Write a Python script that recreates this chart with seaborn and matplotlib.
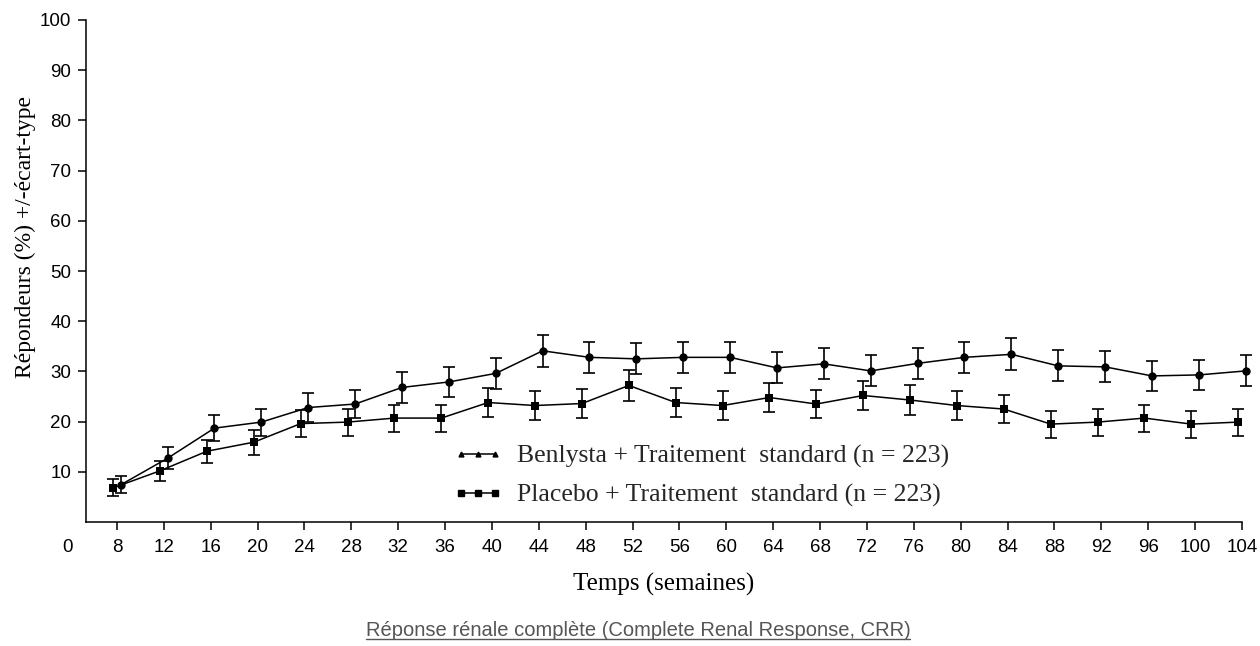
import numpy as np
import pandas as pd
import matplotlib
matplotlib.use("Agg")
import matplotlib.pyplot as plt
import seaborn as sns
from matplotlib.lines import Line2D
from matplotlib.transforms import blended_transform_factory

# ---- data ----
weeks = [8, 12, 16, 20, 24, 28, 32, 36, 40, 44, 48, 52, 56, 60, 64, 68,
         72, 76, 80, 84, 88, 92, 96, 100, 104]
benlysta = [7.4, 12.7, 18.7, 19.9, 22.8, 23.5, 26.8, 27.9, 29.6, 34.1, 32.8,
            32.5, 32.8, 32.8, 30.7, 31.5, 30.1, 31.6, 32.8, 33.4, 31.1, 30.9,
            29.1, 29.3, 30.1]
benlysta_err = [1.7, 2.2, 2.6, 2.7, 2.8, 2.8, 3.0, 3.0, 3.1, 3.2, 3.1, 3.1,
                3.1, 3.1, 3.1, 3.1, 3.1, 3.1, 3.1, 3.2, 3.1, 3.1, 3.0, 3.0, 3.1]
placebo = [6.8, 10.2, 14.1, 15.9, 19.6, 19.9, 20.7, 20.7, 23.8, 23.2, 23.6,
           27.2, 23.8, 23.2, 24.8, 23.5, 25.2, 24.3, 23.2, 22.5, 19.5, 19.9,
           20.7, 19.5, 19.9]
placebo_err = [1.7, 2.0, 2.3, 2.5, 2.7, 2.7, 2.7, 2.7, 2.9, 2.8, 2.8, 3.0,
               2.8, 2.8, 2.9, 2.8, 2.9, 2.9, 2.8, 2.8, 2.7, 2.7, 2.7, 2.7, 2.7]
labels = ["Benlysta + Traitement  standard (n = 223)",
          "Placebo + Traitement  standard (n = 223)"]
y_ticks = [10, 20, 30, 40, 50, 60, 70, 80, 90, 100]

sns.set_style("ticks")
plt.rcParams["font.family"] = ["Liberation Sans", "DejaVu Sans"]

fig = plt.figure(figsize=(12.6, 6.46), dpi=100)
ax = fig.add_axes([86 / 1260, 1 - 522 / 646, (1242 - 86) / 1260, (522 - 20) / 646])

idx = np.arange(len(weeks))
dodge = {labels[0]: 0.08, labels[1]: -0.08}
df = pd.concat([
    pd.DataFrame({"pos": idx + dodge[labels[0]], "val": benlysta,
                  "err": benlysta_err, "grp": labels[0]}),
    pd.DataFrame({"pos": idx + dodge[labels[1]], "val": placebo,
                  "err": placebo_err, "grp": labels[1]}),
])

sns.lineplot(data=df, x="pos", y="val", hue="grp", style="grp",
             palette=["black", "black"], markers=["o", "s"], dashes=False,
             markersize=6, markeredgewidth=0, linewidth=1.1, legend=False,
             ax=ax, clip_on=False, sort=False)
for g, sub in df.groupby("grp"):
    ax.errorbar(sub["pos"], sub["val"], yerr=sub["err"], fmt="none",
                ecolor="black", elinewidth=1.2, capsize=4.5, capthick=1.2,
                clip_on=False)

ax.set_xlim(-0.66, len(weeks) - 1)
ax.set_ylim(0, 100)
ax.set_xticks(idx)
ax.set_xticklabels([str(w) for w in weeks])
ax.set_yticks(y_ticks)
ax.tick_params(axis="both", direction="out", length=5.5, width=1.1,
               color="black", labelsize=13.5, labelcolor="black")
ax.tick_params(axis="x", pad=7)
ax.tick_params(axis="y", pad=5)
for s in ["top", "right"]:
    ax.spines[s].set_visible(False)
for s in ["left", "bottom"]:
    ax.spines[s].set_color("black")
    ax.spines[s].set_linewidth(1.1)
ax.grid(False)

# origin label "0"
trans = blended_transform_factory(ax.transData, ax.transAxes)
ax.text(-1.05, -0.05, "0", transform=trans, ha="center", va="center",
        fontsize=13.5, color="black")

ax.set_xlabel("Temps (semaines)", family=["Liberation Serif", "DejaVu Serif"],
              fontsize=18, color="black", va="top")
ax.xaxis.set_label_coords(0.5, (522 - 573) / 502)
ax.set_ylabel("Répondeurs (%) +/-écart-type",
              family=["Liberation Serif", "DejaVu Serif"], fontsize=17,
              color="black")
ax.yaxis.set_label_coords((36 - 86) / 1156, (522 - 237) / 502)

handles = [
    Line2D([], [], color="black", lw=1.1, marker="^", markersize=3.5),
    Line2D([], [], color="black", lw=1.1, marker="s", markersize=5),
]
ax.legend(handles, labels, loc="center left",
          bbox_to_anchor=((453 - 86) / 1156, (522 - 476) / 502),
          frameon=False, numpoints=3, handlelength=1.95, handletextpad=0.55,
          labelspacing=0.62, borderpad=0, borderaxespad=0,
          prop={"family": ["Liberation Serif", "DejaVu Serif"], "size": 18.5})

cap = fig.text(638 / 1260, 1 - 630 / 646,
               "Réponse rénale complète (Complete Renal Response, CRR)",
               ha="center", va="center", fontsize=14.5, color="#555555",
               family=["Liberation Sans", "DejaVu Sans"])
fig.canvas.draw()
bb = cap.get_window_extent(renderer=fig.canvas.get_renderer())
yline = bb.y0 + 1
fig.add_artist(Line2D([bb.x0, bb.x1], [yline, yline], transform=None,
                      color="#555555", lw=1.0))

fig.savefig("out.png", dpi=100)
